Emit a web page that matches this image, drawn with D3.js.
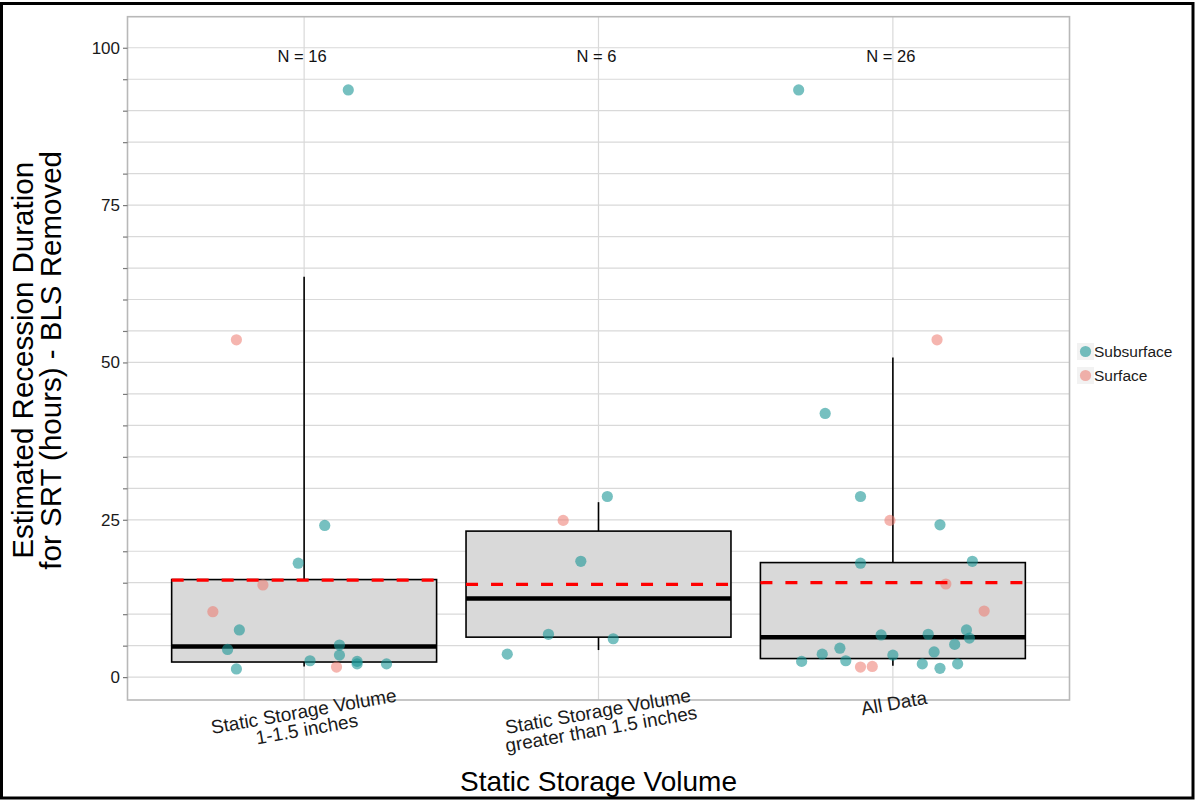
<!DOCTYPE html>
<html>
<head>
<meta charset="utf-8">
<script src="https://cdn.jsdelivr.net/npm/d3@7"></script>
<style>
  html, body { margin: 0; padding: 0; background: #fff; }
  text { font-family: "Liberation Sans", Arial, sans-serif; }
</style>
</head>
<body>
<svg id="chart" width="1195" height="800"></svg>
<script>
// ---------------- data ----------------
const categories = ["g1", "g2", "all"];
const categoryLabels = [
  ["Static Storage Volume", "1-1.5 inches"],
  ["Static Storage Volume", "greater than 1.5 inches"],
  ["All Data"]
];
const nLabels = ["N = 16", "N = 6", "N = 26"];

const whiskerLow  = [1.7, 4.3, 1.8];
const boxQ1       = [2.4, 6.35, 2.95];
const boxMedian   = [4.85, 12.5, 6.35];
const boxQ3       = [15.5, 23.2, 18.2];
const whiskerHigh = [63.6, 27.8, 50.8];
const groupMeans  = [15.4, 14.75, 15.0];

const yTickValues = [0, 5, 10, 15, 20, 25, 30, 35, 40, 45, 50, 55, 60, 65, 70, 75, 80, 85, 90, 95, 100];
const yTickLabels = ["0", "", "", "", "", "25", "", "", "", "", "50", "", "", "", "", "75", "", "", "", "", "100"];

const seriesNames = ["Subsurface", "Surface"];

// points: category index, value, series, horizontal jitter (fraction of category step)
const pointCategory = [
  0,0,0,0,0,0,0,0,0,0,0,0,0,0,0,0,
  1,1,1,1,1,1,
  2,2,2,2,2,2,2,2,2,2,2,2,2,2,2,2,2,2,2,2,2,2,2,2,2,2
];
const pointValue = [
  93.3, 53.6, 24.1, 18.1, 14.65, 10.4, 7.5, 4.4, 1.3, 5.1, 3.5, 2.6, 1.6, 2.5, 2.1, 2.1,
  28.7, 24.9, 18.4, 6.8, 6.1, 3.65,
  93.3, 53.6, 41.9, 28.7, 24.9, 24.2, 18.1, 18.4, 14.8, 10.5, 7.5, 6.2, 5.2, 6.8, 6.7, 4.6, 3.65, 2.5, 2.6, 3.5, 4.0, 1.6, 1.7, 2.1, 1.4, 2.1
];
const pointSeries = [
  "Subsurface","Surface","Subsurface","Subsurface","Surface","Surface","Subsurface","Subsurface","Subsurface","Subsurface","Subsurface","Subsurface","Surface","Subsurface","Subsurface","Subsurface",
  "Subsurface","Surface","Subsurface","Subsurface","Subsurface","Subsurface",
  "Subsurface","Surface","Subsurface","Subsurface","Surface","Subsurface","Subsurface","Subsurface","Surface","Surface","Subsurface","Subsurface","Subsurface","Subsurface","Subsurface","Subsurface","Subsurface","Subsurface","Subsurface","Subsurface","Subsurface","Surface","Surface","Subsurface","Subsurface","Subsurface"
];
const pointJitter = [
  0.15, -0.23, 0.07, -0.02, -0.14, -0.31, -0.22, -0.26, -0.23, 0.12, 0.12, 0.02, 0.11, 0.18, 0.18, 0.28,
  0.03, -0.12, -0.06, -0.17, 0.05, -0.31,
  -0.32, 0.15, -0.23, -0.11, -0.01, 0.16, -0.11, 0.27, 0.18, 0.31, 0.25, 0.26, 0.21, 0.12, -0.04, -0.18, -0.24, -0.31, -0.16, 0.0, 0.14, -0.11, -0.07, 0.10, 0.16, 0.22
];

// ---------------- layout ----------------
const W = 1195, H = 800;
const panel = { left: 127.5, right: 1069.5, top: 16.7, bottom: 700 };

const svg = d3.select("#chart");
svg.append("rect").attr("width", W).attr("height", H).attr("fill", "#fff");

const x = d3.scalePoint().domain(categories).range([panel.left, panel.right]).padding(0.6);
const step = x.step();
const boxW = step * 0.9;

const dataMin = d3.min(pointValue), dataMax = 100;
const ext = (dataMax - dataMin) * 0.05;
const y = d3.scaleLinear().domain([dataMin - ext, dataMax + ext]).range([panel.bottom, panel.top]);

const color = d3.scaleOrdinal().domain(seriesNames).range(["#1a9696", "#ec786e"]);

// grid
const g = svg.append("g");
g.selectAll("line.hgrid").data(yTickValues).join("line")
  .attr("x1", panel.left).attr("x2", panel.right)
  .attr("y1", d => y(d)).attr("y2", d => y(d))
  .attr("stroke", "#d9d9d9").attr("stroke-width", 1.2);
g.selectAll("line.vgrid").data(categories).join("line")
  .attr("x1", d => x(d)).attr("x2", d => x(d))
  .attr("y1", panel.top).attr("y2", panel.bottom)
  .attr("stroke", "#d9d9d9").attr("stroke-width", 1.2);

// boxes
const boxes = svg.append("g");
categories.forEach((c, i) => {
  const cx = x(c);
  boxes.append("line").attr("x1", cx).attr("x2", cx)
    .attr("y1", y(boxQ3[i])).attr("y2", y(whiskerHigh[i]))
    .attr("stroke", "#000").attr("stroke-width", 1.6);
  boxes.append("line").attr("x1", cx).attr("x2", cx)
    .attr("y1", y(boxQ1[i])).attr("y2", y(whiskerLow[i]))
    .attr("stroke", "#000").attr("stroke-width", 1.6);
  boxes.append("rect")
    .attr("x", cx - boxW / 2).attr("width", boxW)
    .attr("y", y(boxQ3[i])).attr("height", y(boxQ1[i]) - y(boxQ3[i]))
    .attr("fill", "#d9d9d9").attr("stroke", "#000").attr("stroke-width", 1.6);
  boxes.append("line")
    .attr("x1", cx - boxW / 2).attr("x2", cx + boxW / 2)
    .attr("y1", y(boxMedian[i])).attr("y2", y(boxMedian[i]))
    .attr("stroke", "#000").attr("stroke-width", 4.5);
});

// points
svg.append("g").selectAll("circle").data(pointValue.map((v, i) => ({
    v, c: categories[pointCategory[i]], s: pointSeries[i], j: pointJitter[i]
  }))).join("circle")
  .attr("cx", d => x(d.c) + d.j * step)
  .attr("cy", d => y(d.v))
  .attr("r", 5.6)
  .attr("fill", d => color(d.s))
  .attr("fill-opacity", d => d.s === "Subsurface" ? 0.6 : 0.55);

// mean lines
svg.append("g").selectAll("line").data(categories).join("line")
  .attr("x1", d => x(d) - boxW / 2).attr("x2", d => x(d) + boxW / 2)
  .attr("y1", (d, i) => y(groupMeans[i])).attr("y2", (d, i) => y(groupMeans[i]))
  .attr("stroke", "#ff0000").attr("stroke-width", 3.2)
  .attr("stroke-dasharray", "12,13");

// N labels
svg.append("g").selectAll("text").data(categories).join("text")
  .attr("x", d => x(d) - 2).attr("y", y(100) + 14)
  .attr("text-anchor", "middle").attr("font-size", 16.5).attr("fill", "#111")
  .text((d, i) => nLabels[i]);

// panel border
svg.append("rect")
  .attr("x", panel.left).attr("y", panel.top)
  .attr("width", panel.right - panel.left).attr("height", panel.bottom - panel.top)
  .attr("fill", "none").attr("stroke", "#b8b8b8").attr("stroke-width", 1.6);

// y axis
const yAxis = d3.axisLeft(y).tickValues(yTickValues).tickSize(4.5).tickPadding(3)
  .tickFormat((d, i) => yTickLabels[i]);
const ya = svg.append("g").attr("transform", `translate(${panel.left},0)`).call(yAxis);
ya.select(".domain").remove();
ya.selectAll(".tick line").attr("stroke", "#7a7a7a").attr("stroke-width", 1.2);
ya.selectAll(".tick text").attr("font-size", 17).attr("fill", "#1a1a1a")
  .attr("font-family", "'Liberation Sans', Arial, sans-serif");

// x tick labels (rotated)
const xl = svg.append("g");
categories.forEach((c, i) => {
  const lines = categoryLabels[i];
  const cy = lines.length === 1 ? 703 : 720;
  const t = xl.append("g").attr("transform", `translate(${x(c) + 1},${cy}) rotate(-10)`);
  const lh = 18;
  lines.forEach((ln, k) => {
    t.append("text")
      .attr("x", 0).attr("y", (k - (lines.length - 1) / 2) * lh)
      .attr("dy", "0.35em")
      .attr("text-anchor", "middle").attr("font-size", 19).attr("fill", "#1a1a1a")
      .text(ln);
  });
});

// axis titles
svg.append("text")
  .attr("x", (panel.left + panel.right) / 2).attr("y", 791)
  .attr("text-anchor", "middle").attr("font-size", 28).attr("fill", "#000")
  .text("Static Storage Volume");

const yt = svg.append("g").attr("transform", `translate(0,${(panel.top + panel.bottom) / 2 + 2}) rotate(-90)`);
yt.append("text").attr("x", 0).attr("y", 33)
  .attr("text-anchor", "middle").attr("font-size", 29.5).attr("fill", "#000")
  .text("Estimated Recession Duration");
yt.append("text").attr("x", 0).attr("y", 61)
  .attr("text-anchor", "middle").attr("font-size", 29.5).attr("fill", "#000")
  .text("for SRT (hours) - BLS Removed");

// legend
const lg = svg.append("g").attr("transform", "translate(1077,343)");
seriesNames.forEach((s, i) => {
  const row = lg.append("g").attr("transform", `translate(0,${i * 24})`);
  row.append("rect").attr("x", 0).attr("y", 0).attr("width", 17).attr("height", 17).attr("fill", "#f2f2f2");
  row.append("circle").attr("cx", 8.5).attr("cy", 8.5).attr("r", 5.6)
    .attr("fill", color(s)).attr("fill-opacity", s === "Subsurface" ? 0.6 : 0.55);
  row.append("text").attr("x", 17).attr("y", 8.5).attr("dy", "0.35em")
    .attr("font-size", 15.5).attr("fill", "#1a1a1a").text(s);
});

// outer frame
svg.append("rect").attr("x", 1.5).attr("y", 3.5).attr("width", 1191.5).attr("height", 794.5)
  .attr("fill", "none").attr("stroke", "#000").attr("stroke-width", 3);
</script>
</body>
</html>
